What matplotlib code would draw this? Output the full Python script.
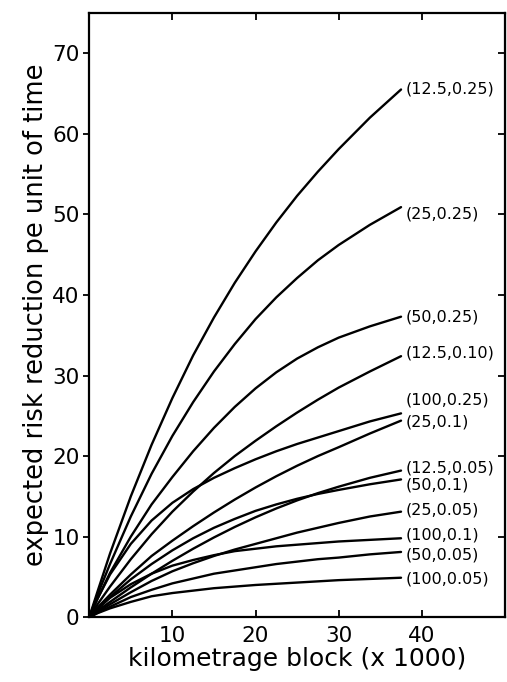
import matplotlib
matplotlib.use("Agg")
import matplotlib.pyplot as plt
import numpy as np

# kilometrage block (x 1000) at which the curves were read
km = [0, 1, 2.5, 5, 7.5, 10, 12.5, 15, 17.5, 20, 22.5, 25, 27.5, 30, 33.75, 37.5]

# expected risk reduction, one list per (a, p) curve
c_125_025 = [0, 3.2, 7.9, 15.0, 21.4, 27.2, 32.5, 37.2, 41.5, 45.4, 49.0, 52.3, 55.3, 58.1, 62.0, 65.5]
c_25_025 = [0, 2.8, 6.6, 12.5, 17.8, 22.5, 26.7, 30.5, 33.9, 37.0, 39.7, 42.1, 44.3, 46.2, 48.7, 50.9]
c_50_025 = [0, 2.3, 5.5, 10.0, 14.0, 17.4, 20.6, 23.5, 26.1, 28.4, 30.4, 32.1, 33.5, 34.7, 36.1, 37.3]
c_125_010 = [0, 1.6, 3.8, 7.2, 10.3, 13.1, 15.6, 17.9, 20.0, 21.9, 23.7, 25.4, 27.0, 28.5, 30.5, 32.4]
c_100_025 = [0, 2.3, 5.3, 9.1, 12.0, 14.2, 15.9, 17.3, 18.5, 19.6, 20.6, 21.5, 22.3, 23.1, 24.3, 25.3]
c_25_010 = [0, 1.2, 2.8, 5.3, 7.6, 9.5, 11.3, 13.0, 14.6, 16.1, 17.5, 18.8, 20.0, 21.1, 22.8, 24.4]
c_125_005 = [0, 0.8, 1.9, 3.7, 5.4, 7.0, 8.5, 9.9, 11.2, 12.4, 13.5, 14.5, 15.4, 16.2, 17.3, 18.2]
c_50_010 = [0, 1.0, 2.5, 4.7, 6.6, 8.3, 9.8, 11.1, 12.2, 13.2, 14.0, 14.7, 15.3, 15.8, 16.5, 17.1]
c_25_005 = [0, 0.65, 1.6, 3.1, 4.5, 5.7, 6.7, 7.6, 8.4, 9.1, 9.8, 10.5, 11.1, 11.7, 12.5, 13.1]
c_100_010 = [0, 1.05, 2.4, 4.1, 5.4, 6.4, 7.1, 7.7, 8.2, 8.5, 8.8, 9.0, 9.2, 9.4, 9.6, 9.8]
c_50_005 = [0, 0.55, 1.3, 2.5, 3.4, 4.2, 4.8, 5.4, 5.8, 6.2, 6.6, 6.9, 7.2, 7.4, 7.8, 8.1]
c_100_005 = [0, 0.5, 1.1, 1.9, 2.6, 3.0, 3.3, 3.6, 3.8, 4.0, 4.15, 4.3, 4.45, 4.6, 4.75, 4.9]

curves = [c_125_025, c_25_025, c_50_025, c_125_010, c_100_025, c_25_010,
          c_125_005, c_50_010, c_25_005, c_100_010, c_50_005, c_100_005]
labels = ["(12.5,0.25)", "(25,0.25)", "(50,0.25)", "(12.5,0.10)",
          "(100,0.25)", "(25,0.1)", "(12.5,0.05)", "(50,0.1)",
          "(25,0.05)", "(100,0.1)", "(50,0.05)", "(100,0.05)"]
# height of each label on the y scale
label_y = [65.6, 50.0, 37.3, 32.8, 26.9, 24.2, 18.5, 16.4, 13.3, 10.2, 7.7, 4.8]

fig = plt.figure(figsize=(5.07, 6.82), dpi=100)
ax = fig.add_axes([0.176, 0.095, 0.82, 0.886])

for ys, lab, ly in zip(curves, labels, label_y):
    ax.plot(km, ys, color="black", lw=1.7, solid_capstyle="round",
            solid_joinstyle="round")
    ax.text(38.0, ly, lab, fontsize=11.5, va="center", ha="left")

ax.set_xlim(0, 50)
ax.set_ylim(0, 75)
ax.set_xticks([10, 20, 30, 40])
ax.set_yticks(range(0, 71, 10))
ax.tick_params(axis="x", direction="in", top=True, length=5, width=1.3,
               labelsize=15.5, pad=6)
ax.tick_params(axis="y", direction="out", length=4, width=1.3,
               labelsize=15.5, pad=3)
for s in ax.spines.values():
    s.set_linewidth(1.6)

right = ax.secondary_yaxis("right")
right.set_yticks(range(0, 71, 10))
right.tick_params(direction="in", length=5, width=1.3, labelright=False)

ax.set_xlabel("kilometrage block (x 1000)", fontsize=18, labelpad=1)
ax.set_ylabel("expected risk reduction pe unit of time", fontsize=18.5,
              labelpad=2)

fig.savefig("out.png", dpi=100)
